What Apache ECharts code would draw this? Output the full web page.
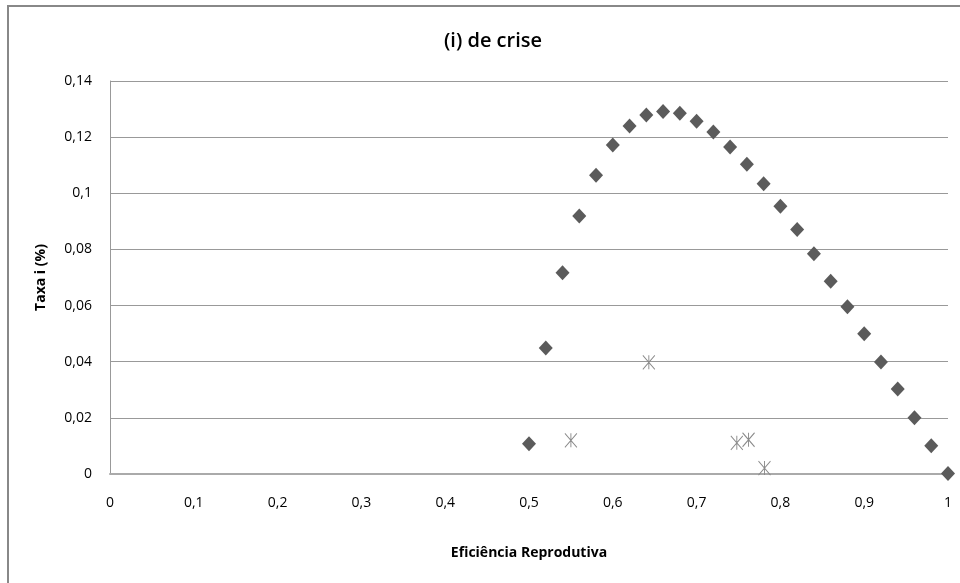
<!DOCTYPE html>
<html><head><meta charset="utf-8">
<script src="https://cdn.jsdelivr.net/npm/echarts@6/dist/echarts.min.js"></script>
<style>html,body{margin:0;padding:0;background:#fff}#c{width:960px;height:583px}</style>
</head><body><div id="c"></div>
<script>
const titleText = '(i) de crise';
const xAxisName = 'Eficiência Reprodutiva';
const yAxisName = 'Taxa i (%)';
const diamondX = [0.50,0.52,0.54,0.56,0.58,0.60,0.62,0.64,0.66,0.68,0.70,0.72,0.74,0.76,0.78,0.80,0.82,0.84,0.86,0.88,0.90,0.92,0.94,0.96,0.98,1.00];
const diamondY = [0.0108,0.0449,0.0717,0.0919,0.1064,0.1172,0.1240,0.1279,0.1291,0.1285,0.1257,0.1218,0.1165,0.1103,0.1034,0.0954,0.0871,0.0785,0.0687,0.0596,0.0500,0.0399,0.0303,0.0200,0.0101,0.0002];
const starX = [0.550,0.643,0.748,0.762,0.781];
const starY = [0.0120,0.0398,0.0111,0.0122,0.0021];

const fmt = v => String(+v.toFixed(2)).replace('.', ',');
const font = '"Open Sans",sans-serif';
const chart = echarts.init(document.getElementById('c'));
chart.setOption({
  backgroundColor: '#fff',
  animation: false,
  title: {text: titleText, left: 488, top: 26, textAlign: 'center',
    textStyle: {fontFamily: font, fontSize: 20, fontWeight: 600, color: '#000'}},
  graphic: [
    {type: 'polyline', shape: {points: [[8, 600], [8, 6], [962, 6]]},
     style: {stroke: '#888', lineWidth: 2, fill: null}}
  ],
  grid: {left: 110, right: 12, top: 81, bottom: 109},
  xAxis: {type: 'value', min: 0, max: 1, interval: 0.1,
    name: xAxisName, nameLocation: 'middle', nameGap: 72,
    nameTextStyle: {fontFamily: font, fontSize: 14, fontWeight: 'bold', color: '#000'},
    axisLine: {lineStyle: {color: '#aaa', width: 2}}, axisTick: {show: false},
    splitLine: {show: false},
    axisLabel: {formatter: fmt, fontFamily: font, fontSize: 14, color: '#000', margin: 22}},
  yAxis: {type: 'value', min: 0, max: 0.14, interval: 0.02,
    name: yAxisName, nameLocation: 'middle', nameGap: 62,
    nameTextStyle: {fontFamily: font, fontSize: 14, fontWeight: 'bold', color: '#000'},
    axisLine: {show: true, lineStyle: {color: '#999', width: 1}}, axisTick: {show: false},
    splitLine: {lineStyle: {color: '#999', width: 1}},
    axisLabel: {formatter: fmt, fontFamily: font, fontSize: 14, color: '#000', margin: 18}},
  series: [
    {type: 'scatter', symbol: 'diamond', symbolSize: [14, 15],
     itemStyle: {color: '#5b5b5b', opacity: 1},
     data: diamondX.map((x, i) => [x, diamondY[i]])},
    {type: 'scatter', symbol: 'path://M0,0L12,14M12,0L0,14M6,0L6,14', symbolSize: [12, 14],
     itemStyle: {color: 'none', borderColor: '#8a8a8a', borderWidth: 1, opacity: 1},
     data: starX.map((x, i) => [x, starY[i]])}
  ]
});
</script></body></html>
